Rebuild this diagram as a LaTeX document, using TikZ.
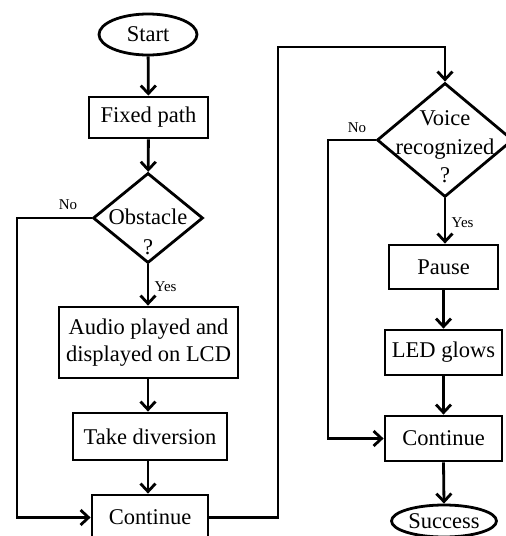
\documentclass[tikz,border=0pt]{standalone}
\usepackage{fontspec}
\setmainfont{Liberation Serif}
\usetikzlibrary{shapes.geometric,arrows.meta}
\begin{document}
\begin{tikzpicture}[x=1pt,y=-1pt,
  line width=2.8pt,
  every node/.style={font=\fontsize{22.5}{27}\selectfont},
  proc/.style={draw,rectangle,inner sep=0pt,align=center},
  term/.style={draw,ellipse,inner sep=0pt},
  dec/.style={draw,diamond,inner sep=0pt},
  small/.style={font=\fontsize{15}{17}\selectfont},
  arr/.style={-{Straight Barb[length=8pt,width=15pt,line width=2.8pt]}},
  ]
\useasboundingbox (0,0) rectangle (506,536);
\node[term,minimum width=98pt,minimum height=41pt] (start) at (148,34.5) {Start};
\node[proc,minimum width=119pt,minimum height=41pt] (fixed) at (148.5,117.5) {Fixed path};
\node[dec,minimum width=110pt,minimum height=90pt] (obst) at (148,218) {};
\node[align=center,font=\fontsize{22.5}{30}\selectfont] (obsttxt) at (148,232) {Obstacle\\?};
\node[proc,minimum width=179pt,minimum height=71pt] (audio) at (148.5,342.5) {Audio played and\\displayed on LCD};
\node[proc,minimum width=154pt,minimum height=47pt] (take) at (150,436.5) {Take diversion};
\node[proc,minimum width=116pt,minimum height=45pt] (cont) at (150,517.5) {Continue};

\node[dec,minimum width=136pt,minimum height=114pt] (voice) at (445,140) {};
\node[align=center,font=\fontsize{22.5}{28.5}\selectfont] (voicetxt) at (445,147) {Voice\\recognized\\?};
\node[proc,minimum width=109pt,minimum height=44pt] (pause) at (443.5,267) {Pause};
\node[proc,minimum width=117pt,minimum height=45pt] (led) at (443.5,352.5) {LED glows};
\node[proc,minimum width=117pt,minimum height=45pt] (cont2) at (443.5,438.5) {Continue};
\node[term,minimum width=105pt,minimum height=32pt] (succ) at (444,521) {Success};

\coordinate (c1) at (17,218);
\coordinate (c2) at (17,517.5);
\coordinate (c3) at (278,517.5);
\coordinate (c4) at (278,47);
\coordinate (c5) at (445,47);
\coordinate (c6) at (328,140);
\coordinate (c7) at (328,438.5);

\draw[arr] (start) -- (fixed);
\draw[arr] (fixed) -- (obst);
\draw[arr] (obst) -- node[small,right,xshift=2pt,yshift=-2pt] {Yes} (audio.north -| obst.south);
\draw[arr] (audio.south -| obst.south) -- (take.north -| obst.south);
\draw[arr] (take.south -| obst.south) -- (cont.north -| obst.south);
\draw[arr] (obst.west) -- (c1) -- (c2) -- (cont.west);
\node[small] (no1) at (68,205) {No};
\draw[arr] (cont.east) -- (c3) -- (c4) -- (c5) -- (voice.north);
\draw[arr] (voice.south) -- node[small,right,xshift=2pt,yshift=-2pt] {Yes} (pause.north -| voice.south);
\draw[arr] (pause.south) -- (led.north);
\draw[arr] (led.south) -- (cont2.north);
\draw[arr] (cont2.south) -- (succ.north);
\draw[arr] (voice.west) -- (c6) -- (c7) -- (cont2.west);
\node[small] (no2) at (357,128) {No};
\end{tikzpicture}
\end{document}
